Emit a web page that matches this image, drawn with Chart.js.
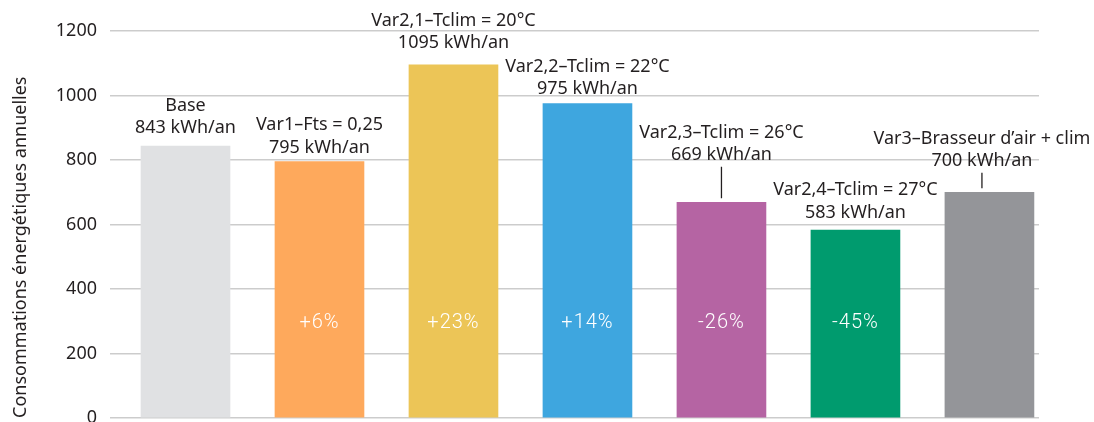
<!DOCTYPE html>
<html><head><meta charset="utf-8">
<script src="https://cdn.jsdelivr.net/npm/chart.js@4.4.1/dist/chart.umd.min.js"></script>
<style>html,body{margin:0;padding:0;overflow:hidden;background:#fff}#wrap{width:1094px;height:422px;overflow:hidden}</style>
</head><body><div id="wrap"><canvas id="c" width="1094" height="450"></canvas></div>
<script>
// ---- data ----
const categories = ['Base', 'Var1–Fts = 0,25', 'Var2,1–Tclim = 20°C', 'Var2,2–Tclim = 22°C', 'Var2,3–Tclim = 26°C', 'Var2,4–Tclim = 27°C', 'Var3–Brasseur d’air + clim'];
const consumption = [843, 795, 1095, 975, 669, 583, 700];
const valueLabels = ['843 kWh/an', '795 kWh/an', '1095 kWh/an', '975 kWh/an', '669 kWh/an', '583 kWh/an', '700 kWh/an'];
const percentLabels = ['', '+6%', '+23%', '+14%', '-26%', '-45%', ''];
const yTicks = [0, 200, 400, 600, 800, 1000, 1200];
const yTitle = 'Consommations énergétiques annuelles';

// ---- styles ----
const barColors = ['#e0e1e3', '#fea95c', '#ecc557', '#3ea6df', '#b564a3', '#009b6e', '#949599'];
const TEXT = '#231f20';
const FONT = '"Noto Sans", "Open Sans", sans-serif';
// label placement: gap (px) from bar top to centre of 2nd line, x shift, connector line
const labelLayout = [
  {gap: 18, dx: 0}, {gap: 14, dx: 0}, {gap: 21.5, dx: 0}, {gap: 14.5, dx: 0},
  {gap: 47, dx: 0, connector: true}, {gap: 17.5, dx: 0}, {gap: 31, dx: -7.5, connector: true}
];
const LINE_H = 22.5;
const PERCENT_AT = 295;

const labelPlugin = {
  id: 'barLabels',
  afterDraw(chart) {
    const ctx = chart.ctx;
    const meta = chart.getDatasetMeta(0);
    const ys = chart.scales.y;
    ctx.save();
    ctx.textAlign = 'center';
    ctx.textBaseline = 'middle';
    meta.data.forEach((bar, i) => {
      const L = labelLayout[i];
      const cx = bar.x + L.dx;
      const l2 = bar.y - L.gap;
      ctx.fillStyle = TEXT;
      ctx.font = '18px ' + FONT;
      ctx.fillText(categories[i], cx, l2 - LINE_H);
      ctx.fillText(valueLabels[i], cx, l2);
      if (L.connector) {
        ctx.strokeStyle = TEXT;
        ctx.lineWidth = 1.3;
        ctx.beginPath();
        ctx.moveTo(cx, l2 + 11.5);
        ctx.lineTo(cx, bar.y - 4);
        ctx.stroke();
      }
      if (percentLabels[i]) {
        ctx.fillStyle = '#ffffff';
        ctx.font = '300 20px Roboto, sans-serif';
        if ('letterSpacing' in ctx) ctx.letterSpacing = '1px';
        ctx.fillText(percentLabels[i], bar.x, ys.getPixelForValue(PERCENT_AT));
        if ('letterSpacing' in ctx) ctx.letterSpacing = '0px';
      }
    });
    ctx.restore();
  }
};

new Chart(document.getElementById('c'), {
  type: 'bar',
  data: {
    datasets: [{
      data: consumption.map((v, i) => ({x: i, y: v})),
      backgroundColor: barColors,
      borderWidth: 0,
      barThickness: 89
    }]
  },
  options: {
    responsive: false,
    animation: false,
    devicePixelRatio: 1,
    layout: {padding: {top: 31, bottom: 32, right: 55, left: 0}},
    plugins: {legend: {display: false}, tooltip: {enabled: false}},
    scales: {
      x: {
        type: 'linear', offset: false, display: false,
        min: -0.5634, max: 6.3699
      },
      y: {
        min: 0, max: 1200, z: 1,
        afterBuildTicks: (s) => { s.ticks = yTicks.map(v => ({value: v})); },
        afterFit: (s) => { s.width = 110; },
        ticks: {color: TEXT, font: {family: FONT, size: 18}, padding: 13, callback: (v) => String(v)},
        grid: {color: 'rgba(0,0,0,0.2)', lineWidth: 1.5, drawTicks: false},
        border: {display: false},
        title: {display: true, text: yTitle, align: 'start', color: TEXT,
                font: {family: FONT, size: 18}, padding: {top: 10, bottom: 0}}
      }
    }
  },
  plugins: [labelPlugin]
});
</script></body></html>
